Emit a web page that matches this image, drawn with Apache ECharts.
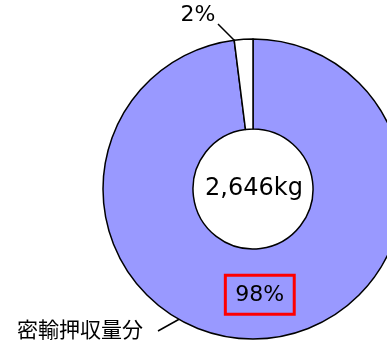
<!DOCTYPE html>
<html><head><meta charset="utf-8">
<script src="https://cdn.jsdelivr.net/npm/echarts@6/dist/echarts.min.js"></script>
<style>html,body{margin:0;padding:0;background:#fff}#c{width:387px;height:344px}</style>
</head><body><div id="c"></div>
<script>
const categories = ['密輸押収量分', 'その他'];
const shares = [98, 2];
const totalKg = 2646;
const colors = ['#9999ff', '#ffffff'];
const FONT = '"Noto Sans CJK JP", sans-serif';
const NUMFONT = '"DejaVu Sans", sans-serif';

const chart = echarts.init(document.getElementById('c'), null, {renderer: 'canvas'});
chart.setOption({
  animation: false,
  backgroundColor: '#ffffff',
  graphic: [
    {type: 'text', left: 17, top: 319, style: {text: categories[0], font: '21px ' + FONT, fill: '#000'}},
    {type: 'line', shape: {x1: 158, y1: 331, x2: 210, y2: 302}, style: {stroke: '#000', lineWidth: 1.5}},
    {type: 'text', x: 254, y: 189, style: {text: totalKg.toLocaleString('en-US') + 'kg', font: '24px ' + NUMFONT, fill: '#000', align: 'center', verticalAlign: 'middle'}}
  ],
  series: [{
    type: 'pie',
    center: [253, 189],
    radius: [60, 150],
    startAngle: 90,
    clockwise: true,
    avoidLabelOverlap: false,
    data: categories.map((n, i) => ({
      name: n, value: shares[i],
      itemStyle: {color: colors[i]},
      label: i === 0 ? {
        show: true, position: 'inside', formatter: '{c}%',
        fontFamily: NUMFONT, fontSize: 22, color: '#000',
        borderColor: '#ff0000', borderWidth: 3, padding: [8, 10, 7, 10], lineHeight: 24
      } : {
        show: true, position: 'outside', formatter: '{c}%',
        fontFamily: NUMFONT, fontSize: 22, color: '#000'
      },
      labelLine: i === 0 ? {show: false} : {show: true, lineStyle: {color: '#000', width: 1.5}}
    })),
    itemStyle: {borderColor: '#000', borderWidth: 1.5},
    labelLayout: function (p) {
      if (p.dataIndex === 0) {
        return {dy: -2};
      }
      if (p.dataIndex === 1) {
        return {x: 198, y: 15, align: 'center', verticalAlign: 'middle',
          labelLinePoints: [[246, 52], [232, 38], [218, 24]]};
      }
    }
  }]
});
</script></body></html>
